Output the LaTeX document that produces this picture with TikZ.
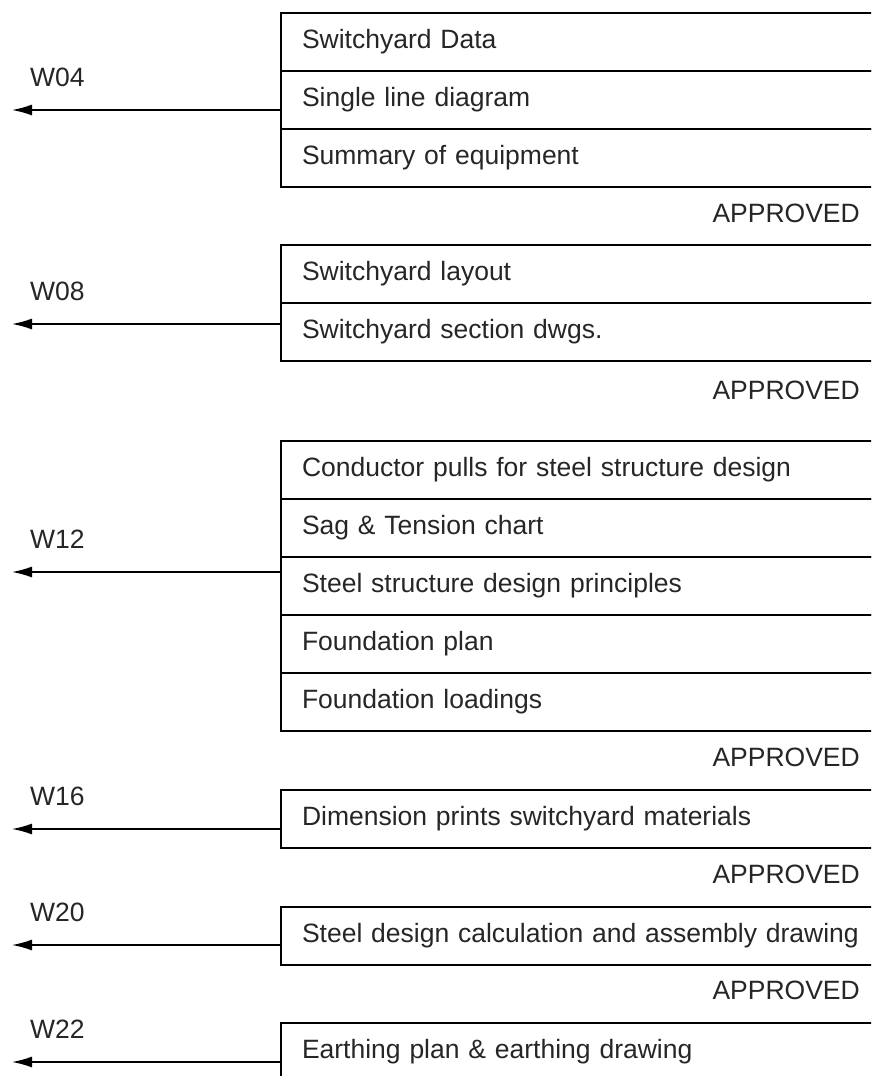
\documentclass[tikz,border=0pt]{standalone}
\usepackage{fontspec}
\setmainfont{Liberation Sans}
\usetikzlibrary{arrows.meta, positioning}

\begin{document}
\begin{tikzpicture}[
    x=1pt, y=-1pt,
    node distance=0pt,
    every node/.style={font=\fontsize{26.5}{30}\selectfont, text=black!85},
    row/.style={rectangle, draw, line width=1.5pt, outer sep=0pt, text width=598pt, inner xsep=21pt, inner ysep=0pt, align=left, minimum height=58pt},
    wlabel/.style={anchor=west, inner sep=0pt},
    approved/.style={anchor=east, inner sep=0pt},
    conn/.style={-{Latex[length=20pt, width=11pt]}, line width=1.5pt}
]
\useasboundingbox (0,0) rectangle (871,1076);

\begin{scope}
\clip (0,0) rectangle (871,1076);

% W04 items
\node (r04a) [row, anchor=north west] at (281,13) {Switchyard Data};
\node (r04b) [row, below=of r04a] {Single line diagram};
\node (r04c) [row, below=of r04b] {Summary of equipment};

% W08 items
\node (r08a) [row, anchor=north west] at (281,245) {Switchyard layout};
\node (r08b) [row, below=of r08a] {Switchyard section dwgs.};

% W12 items
\node (r12a) [row, anchor=north west] at (281,441) {Conductor pulls for steel structure design};
\node (r12b) [row, below=of r12a] {Sag \& Tension chart};
\node (r12c) [row, below=of r12b] {Steel structure design principles};
\node (r12d) [row, below=of r12c] {Foundation plan};
\node (r12e) [row, below=of r12d] {Foundation loadings};

% W16, W20, W22 items
\node (r16a) [row, anchor=north west] at (281,790) {Dimension prints switchyard materials};
\node (r20a) [row, anchor=north west] at (281,907) {Steel design calculation and assembly drawing};
\node (r22a) [row, anchor=north west] at (281,1023) {Earthing plan \& earthing drawing};
\end{scope}

% Approval notes
\node (ap04) [approved] at (860,213) {APPROVED};
\node (ap08) [approved] at (860,390) {APPROVED};
\node (ap12) [approved] at (860,757) {APPROVED};
\node (ap16) [approved] at (860,874) {APPROVED};
\node (ap20) [approved] at (860,990) {APPROVED};

% Outgoing ends
\coordinate (t04) at (12,110);
\coordinate (t08) at (12,324);
\coordinate (t12) at (12,572);
\coordinate (t16) at (12,829);
\coordinate (t20) at (12,945);
\coordinate (t22) at (12,1062);

\node (l04) [wlabel] at (30,77) {W04};
\node (l08) [wlabel] at (30,291) {W08};
\node (l12) [wlabel] at (30,539) {W12};
\node (l16) [wlabel] at (30,796) {W16};
\node (l20) [wlabel] at (30,912) {W20};
\node (l22) [wlabel] at (30,1029) {W22};

% Paths
\draw [conn] (r04b.west |- t04) -- (t04);
\draw [conn] (r08b.west |- t08) -- (t08);
\draw [conn] (r12c.west |- t12) -- (t12);
\draw [conn] (r16a.west |- t16) -- (t16);
\draw [conn] (r20a.west |- t20) -- (t20);
\draw [conn] (r22a.west |- t22) -- (t22);

\end{tikzpicture}
\end{document}
